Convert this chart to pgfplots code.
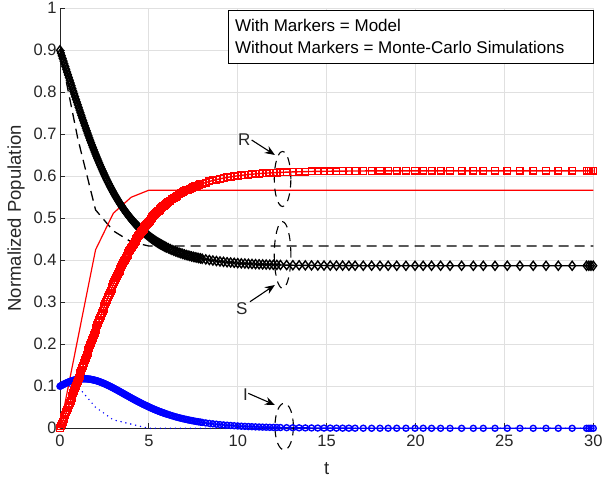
\documentclass[border=0pt]{standalone}
\usepackage{fontspec}
\setmainfont{Liberation Sans}
\usepackage{pgfplots}
\usepackage{pgfplotstable}
\pgfplotsset{compat=1.18}
\usetikzlibrary{arrows.meta}

\definecolor{axgray}{RGB}{38,38,38}
\definecolor{gridgray}{RGB}{224,224,224}

% SIR model solution (normalized): t, S, I, R
\pgfplotstableread{
t      S      I      R
0.0    0.9000 0.1000 0.0000
0.05   0.8936 0.1012 0.0053
0.1    0.8871 0.1023 0.0106
0.15   0.8806 0.1035 0.0159
0.2    0.8742 0.1046 0.0212
0.25   0.8677 0.1057 0.0267
0.3    0.8612 0.1067 0.0321
0.35   0.8547 0.1077 0.0377
0.4    0.8481 0.1087 0.0432
0.45   0.8416 0.1096 0.0488
0.5    0.8351 0.1105 0.0544
0.55   0.8286 0.1113 0.0602
0.6    0.8220 0.1121 0.0659
0.65   0.8155 0.1129 0.0717
0.7    0.8090 0.1136 0.0775
0.75   0.8025 0.1142 0.0834
0.8    0.7960 0.1147 0.0893
0.85   0.7895 0.1153 0.0952
0.9    0.7830 0.1159 0.1011
0.95   0.7767 0.1163 0.1072
1.0    0.7703 0.1166 0.1132
1.05   0.7639 0.1170 0.1192
1.1    0.7575 0.1173 0.1252
1.15   0.7513 0.1175 0.1313
1.2    0.7451 0.1176 0.1373
1.25   0.7389 0.1178 0.1434
1.3    0.7327 0.1179 0.1494
1.35   0.7267 0.1179 0.1555
1.4    0.7206 0.1179 0.1616
1.45   0.7146 0.1178 0.1677
1.5    0.7086 0.1177 0.1737
1.55   0.7028 0.1175 0.1798
1.6    0.6969 0.1173 0.1858
1.65   0.6912 0.1171 0.1919
1.7    0.6854 0.1168 0.1979
1.75   0.6799 0.1164 0.2039
1.8    0.6743 0.1159 0.2098
1.85   0.6688 0.1155 0.2158
1.9    0.6632 0.1150 0.2217
1.95   0.6579 0.1145 0.2276
2.0    0.6526 0.1139 0.2335
2.05   0.6474 0.1133 0.2394
2.1    0.6422 0.1127 0.2452
2.15   0.6372 0.1120 0.2510
2.2    0.6321 0.1112 0.2567
2.25   0.6272 0.1105 0.2624
2.3    0.6223 0.1097 0.2681
2.35   0.6175 0.1089 0.2737
2.4    0.6127 0.1080 0.2793
2.45   0.6081 0.1071 0.2848
2.5    0.6035 0.1062 0.2903
2.55   0.5990 0.1053 0.2958
2.6    0.5944 0.1043 0.3012
2.65   0.5902 0.1033 0.3065
2.7    0.5860 0.1023 0.3118
2.75   0.5818 0.1013 0.3171
2.8    0.5775 0.1003 0.3223
2.85   0.5735 0.0992 0.3274
2.9    0.5695 0.0981 0.3324
2.95   0.5656 0.0970 0.3374
3.0    0.5617 0.0959 0.3424
3.05   0.5579 0.0948 0.3474
3.1    0.5541 0.0936 0.3523
3.15   0.5506 0.0925 0.3570
3.2    0.5471 0.0913 0.3616
3.25   0.5436 0.0902 0.3663
3.3    0.5400 0.0890 0.3710
3.35   0.5367 0.0878 0.3755
3.4    0.5334 0.0866 0.3800
3.45   0.5302 0.0855 0.3844
3.5    0.5270 0.0843 0.3887
3.55   0.5239 0.0831 0.3931
3.6    0.5207 0.0819 0.3975
3.65   0.5178 0.0807 0.4016
3.7    0.5149 0.0795 0.4056
3.75   0.5121 0.0783 0.4096
3.8    0.5093 0.0771 0.4136
3.85   0.5065 0.0760 0.4176
3.9    0.5037 0.0748 0.4216
3.95   0.5011 0.0736 0.4254
4.0    0.4985 0.0724 0.4291
4.05   0.4961 0.0713 0.4327
4.1    0.4936 0.0701 0.4363
4.15   0.4912 0.0690 0.4399
4.2    0.4887 0.0678 0.4435
4.25   0.4863 0.0667 0.4471
4.3    0.4839 0.0655 0.4506
4.35   0.4819 0.0644 0.4538
4.4    0.4798 0.0633 0.4569
4.45   0.4777 0.0623 0.4601
4.5    0.4756 0.0612 0.4632
4.55   0.4736 0.0601 0.4664
4.6    0.4715 0.0590 0.4696
4.65   0.4695 0.0579 0.4727
4.7    0.4674 0.0568 0.4757
4.75   0.4657 0.0558 0.4784
4.8    0.4640 0.0548 0.4811
4.85   0.4623 0.0539 0.4838
4.9    0.4606 0.0529 0.4865
4.95   0.4589 0.0519 0.4892
5.0    0.4572 0.0509 0.4919
5.05   0.4555 0.0499 0.4946
5.1    0.4538 0.0489 0.4973
5.15   0.4522 0.0480 0.4999
5.2    0.4505 0.0470 0.5025
5.25   0.4491 0.0461 0.5049
5.3    0.4476 0.0451 0.5073
5.35   0.4462 0.0443 0.5096
5.4    0.4448 0.0434 0.5118
5.45   0.4435 0.0426 0.5140
5.5    0.4421 0.0417 0.5162
5.55   0.4409 0.0409 0.5183
5.6    0.4396 0.0400 0.5204
5.65   0.4384 0.0392 0.5224
5.7    0.4372 0.0384 0.5244
5.75   0.4360 0.0377 0.5264
5.8    0.4348 0.0369 0.5283
5.85   0.4337 0.0362 0.5302
5.9    0.4326 0.0354 0.5321
5.95   0.4316 0.0347 0.5339
6.0    0.4305 0.0339 0.5356
6.1    0.4285 0.0326 0.5390
6.2    0.4265 0.0312 0.5423
6.3    0.4247 0.0299 0.5454
6.4    0.4229 0.0286 0.5484
6.5    0.4213 0.0274 0.5513
6.6    0.4196 0.0262 0.5541
6.7    0.4181 0.0251 0.5567
6.8    0.4166 0.0240 0.5593
6.9    0.4153 0.0230 0.5617
7.0    0.4139 0.0220 0.5641
7.1    0.4127 0.0211 0.5663
7.2    0.4115 0.0201 0.5684
7.3    0.4104 0.0193 0.5704
7.4    0.4092 0.0184 0.5724
7.5    0.4082 0.0176 0.5742
7.6    0.4072 0.0168 0.5760
7.7    0.4063 0.0161 0.5777
7.8    0.4053 0.0154 0.5793
7.9    0.4045 0.0147 0.5809
8.0    0.4036 0.0140 0.5824
8.2    0.4021 0.0128 0.5852
8.4    0.4007 0.0116 0.5877
8.6    0.3994 0.0106 0.5900
8.8    0.3983 0.0097 0.5921
9.0    0.3972 0.0088 0.5940
9.2    0.3963 0.0080 0.5957
9.4    0.3954 0.0073 0.5973
9.6    0.3947 0.0067 0.5987
9.8    0.3940 0.0061 0.6000
10.0   0.3933 0.0055 0.6012
10.2   0.3927 0.0050 0.6023
10.4   0.3922 0.0046 0.6033
10.6   0.3917 0.0042 0.6042
10.8   0.3913 0.0038 0.6050
11.0   0.3909 0.0034 0.6057
11.2   0.3905 0.0031 0.6064
11.4   0.3902 0.0028 0.6070
11.6   0.3899 0.0026 0.6076
11.8   0.3896 0.0023 0.6081
12.0   0.3893 0.0021 0.6085
12.2   0.3891 0.0019 0.6090
12.4   0.3889 0.0018 0.6093
12.75  0.3886 0.0015 0.6099
13.1   0.3883 0.0013 0.6104
13.45  0.3881 0.0011 0.6108
13.8   0.3879 0.0009 0.6112
14.15  0.3878 0.0008 0.6115
14.5   0.3876 0.0006 0.6117
14.85  0.3875 0.0005 0.6119
15.2   0.3874 0.0005 0.6121
15.55  0.3873 0.0004 0.6123
15.9   0.3873 0.0003 0.6124
16.25  0.3872 0.0003 0.6125
16.6   0.3872 0.0002 0.6126
17.06  0.3871 0.0002 0.6127
17.53  0.3871 0.0001 0.6128
18.0   0.3870 0.0001 0.6129
18.46  0.3870 0.0001 0.6129
18.94  0.3870 0.0001 0.6129
19.46  0.3870 0.0001 0.6129
19.97  0.3870 0.0001 0.6129
20.43  0.3870 0.0001 0.6129
20.9   0.3870 0.0000 0.6130
21.41  0.3870 0.0000 0.6130
21.94  0.3870 0.0000 0.6130
22.59  0.3870 0.0000 0.6130
23.25  0.3870 0.0000 0.6130
23.81  0.3870 0.0000 0.6130
24.47  0.3870 0.0000 0.6130
25.16  0.3870 0.0000 0.6130
25.87  0.3870 0.0000 0.6130
26.62  0.3870 0.0000 0.6130
27.34  0.3870 0.0000 0.6130
28.03  0.3870 0.0000 0.6130
28.81  0.3870 0.0000 0.6130
29.62  0.3870 0.0000 0.6130
29.75  0.3870 0.0000 0.6130
29.87  0.3870 0.0000 0.6130
30.0   0.3870 0.0000 0.6130
}\model

% Monte-Carlo averages at whole time steps
\pgfplotstableread{
t  S     I     R
0  0.900 0.100 0.000
1  0.690 0.100 0.213
2  0.520 0.050 0.425
3  0.470 0.020 0.512
4  0.444 0.010 0.550
5  0.434 0.000 0.567
30 0.434 0.000 0.567
}\montecarlo

\begin{document}
\begin{tikzpicture}
\useasboundingbox (-60pt,-49.7pt) rectangle (542pt,428.3pt);
\begin{axis}[
  at={(0pt,0pt)}, anchor=south west,
  scale only axis, width=533.3pt, height=420pt,
  xmin=0, xmax=30, ymin=0, ymax=1,
  enlargelimits=false,
  axis x line*=bottom, axis y line*=left,
  axis line style={axgray, line width=0.8pt},
  xtick={0,5,10,15,20,25,30},
  ytick={0,0.1,0.2,0.3,0.4,0.5,0.6,0.7,0.8,0.9,1},
  yticklabels={0,0.1,0.2,0.3,0.4,0.5,0.6,0.7,0.8,0.9,1},
  tick align=inside, major tick length=5pt,
  tick style={axgray, line width=0.8pt},
  grid=major, major grid style={gridgray, line width=0.8pt},
  ticklabel style={font=\fontsize{16.5}{19}\selectfont, text=axgray},
  xticklabel style={yshift=-3pt},
  /pgf/number format/assume math mode=true,
  label style={font=\fontsize{18.5}{22}\selectfont, text=axgray},
  xlabel={t}, ylabel={Normalized Population},
  xlabel style={at={(axis description cs:0.5,-0.0952)}, anchor=center},
  ylabel style={at={(axis description cs:-0.0825,0.5)}, anchor=center},
  clip=false,
]
% Monte-Carlo simulations (no markers)
\addplot[black, line width=1.3pt, dash pattern=on 10pt off 6pt] table[x=t, y=S] {\montecarlo};
\addplot[blue, line width=1.6pt, line cap=round, dash pattern=on 0pt off 5pt] table[x=t, y=I] {\montecarlo};
% model (markers)
\addplot[black, line width=1.4pt, mark=diamond, mark size=4.5pt, mark options={solid}] table[x=t, y=S] {\model};
\addplot[red, line width=1.2pt] table[x=t, y=R] {\montecarlo};
\addplot[blue, line width=1.4pt, mark=o, mark size=3pt, mark options={solid}] table[x=t, y=I] {\model};
\addplot[red, line width=1.4pt, mark=square, mark size=3.3pt, mark options={solid}] table[x=t, y=R] {\model};

% annotations
\begin{scope}[black, line width=1.1pt]
  \draw[dash pattern=on 8pt off 6pt] (axis cs:12.52,0.5936) ellipse [x radius=8.3pt, y radius=27.5pt];
  \draw[dash pattern=on 8pt off 6pt] (axis cs:12.52,0.4126) ellipse [x radius=8.3pt, y radius=33.3pt];
  \draw[dash pattern=on 8pt off 6pt] (axis cs:12.61,0.004) ellipse [x radius=9.2pt, y radius=23.3pt];
  \draw[-{Stealth[length=10pt,width=8pt]}] (axis cs:10.78,0.6864) -- (axis cs:12.09,0.6507);
  \draw[-{Stealth[length=10pt,width=8pt]}] (axis cs:10.69,0.3014) -- (axis cs:12.09,0.3412);
  \draw[-{Stealth[length=10pt,width=8pt]}] (axis cs:10.59,0.0833) -- (axis cs:12.09,0.0555);
\end{scope}
\node[font=\fontsize{17}{20}\selectfont, text=axgray] at (axis cs:10.36,0.6883) {R};
\node[font=\fontsize{17}{20}\selectfont, text=axgray] at (axis cs:10.22,0.2857) {S};
\node[font=\fontsize{17}{20}\selectfont, text=axgray] at (axis cs:10.43,0.0812) {I};

% text box
\draw[black, line width=0.8pt, fill=white] (axis cs:9.47,0.869) rectangle (axis cs:30,0.996);
\node[anchor=base west, inner sep=0pt, font=\fontsize{17}{20}\selectfont] at (axis cs:9.84,0.9443) {With Markers = Model};
\node[anchor=base west, inner sep=0pt, font=\fontsize{17}{20}\selectfont] at (axis cs:9.84,0.8929) {Without Markers = Monte-Carlo Simulations};
\end{axis}
\end{tikzpicture}
\end{document}
